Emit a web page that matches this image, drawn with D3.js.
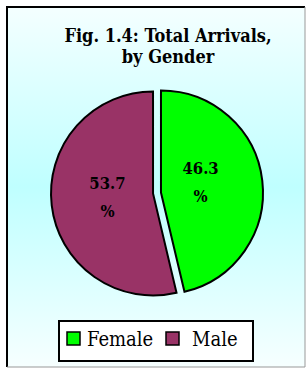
<!DOCTYPE html>
<html>
<head>
<meta charset="utf-8">
<script src="https://cdn.jsdelivr.net/npm/d3@7"></script>
<style>
  body { margin: 0; background: #ffffff; }
</style>
</head>
<body>
<div id="chart"></div>
<script>
const categories = ["Female", "Male"];
const shares = [46.3, 53.7];
const colors = ["#00ff00", "#993366"];
const titleLines = ["Fig. 1.4: Total Arrivals,", "by Gender"];

const W = 308, H = 369;
const serif = "'DejaVu Serif Condensed', 'DejaVu Serif', serif";

const svg = d3.select("#chart")
	.append("svg")
	.attr("width", W)
	.attr("height", H);

// background gradient
const grad = svg.append("defs").append("linearGradient")
	.attr("id", "bg")
	.attr("x1", 0).attr("y1", 0).attr("x2", 0).attr("y2", 1);
grad.append("stop").attr("offset", "0%").attr("stop-color", "#f4ffff");
grad.append("stop").attr("offset", "50%").attr("stop-color", "#bfffff");
grad.append("stop").attr("offset", "100%").attr("stop-color", "#f6ffff");

svg.append("rect")
	.attr("x", 7).attr("y", 7)
	.attr("width", 298).attr("height", 360)
	.attr("fill", "url(#bg)");

// frame: dark left/top, light right/bottom
svg.append("path")
	.attr("d", "M7,367 L7,7 L305,7")
	.attr("fill", "none")
	.attr("stroke", "#000")
	.attr("stroke-width", 2);
svg.append("path")
	.attr("d", "M305,7 L305,367 L7,367")
	.attr("fill", "none")
	.attr("stroke", "#999")
	.attr("stroke-width", 1);

// title
svg.append("text")
	.attr("text-anchor", "middle")
	.style("font-family", serif)
	.style("font-weight", "bold")
	.style("font-size", "18px")
	.attr("fill", "#000")
	.selectAll("tspan")
	.data(titleLines)
	.join("tspan")
	.attr("x", 168)
	.attr("y", (d, i) => 42 + i * 21)
	.text(d => d);

// pie
const cx = 157, cy = 193, r = 102, explode = 4;
const pie = d3.pie().sort(null).value(d => d);
const arcs = pie(shares);
const arc = d3.arc().innerRadius(0).outerRadius(r);

const g = svg.append("g").attr("transform", `translate(${cx},${cy})`);

const slice = g.selectAll("g.slice")
	.data(arcs)
	.join("g")
	.attr("class", "slice")
	.attr("transform", d => {
		const a = (d.startAngle + d.endAngle) / 2;
		return `translate(${Math.sin(a) * explode},${-Math.cos(a) * explode})`;
	});

slice.append("path")
	.attr("d", arc)
	.attr("fill", (d, i) => colors[i])
	.attr("stroke", "#000")
	.attr("stroke-width", 2)
	.attr("stroke-linejoin", "miter");

// labels, two lines centred near the slice centroid
const labelArc = d3.arc().innerRadius(r * 0.45).outerRadius(r * 0.45);
slice.each(function(d, i) {
	const [lx, ly] = labelArc.centroid(d);
	const shiftY = i === 0 ? -5 : -2;
	const t = d3.select(this).append("text")
		.attr("text-anchor", "middle")
		.style("font-family", serif)
		.style("font-weight", "bold")
		.style("font-size", "16.5px")
		.attr("fill", "#000");
	t.append("tspan").attr("x", lx - (i === 0 ? 6 : 0)).attr("y", ly + shiftY - 8).text(d.data.toFixed(1));
	t.append("tspan").attr("x", lx - (i === 0 ? 6 : 0)).attr("y", ly + shiftY + 20).text("%");
});

// legend
const legend = svg.append("g");
legend.append("rect")
	.attr("x", 59).attr("y", 321)
	.attr("width", 194).attr("height", 40)
	.attr("fill", "#fff")
	.attr("stroke", "#000")
	.attr("stroke-width", 2);

const legendX = [67, 166];
const items = legend.selectAll("g.item")
	.data(categories)
	.join("g")
	.attr("class", "item")
	.attr("transform", (d, i) => `translate(${legendX[i]},332)`);

items.append("rect")
	.attr("width", 13).attr("height", 13)
	.attr("fill", (d, i) => colors[i])
	.attr("stroke", "#000")
	.attr("stroke-width", 1.5);

items.append("text")
	.attr("x", (d, i) => i === 0 ? 20 : 26)
	.attr("y", 14)
	.style("font-family", serif)
	.style("font-size", "20px")
	.attr("fill", "#000")
	.text(d => d);
</script>
</body>
</html>
